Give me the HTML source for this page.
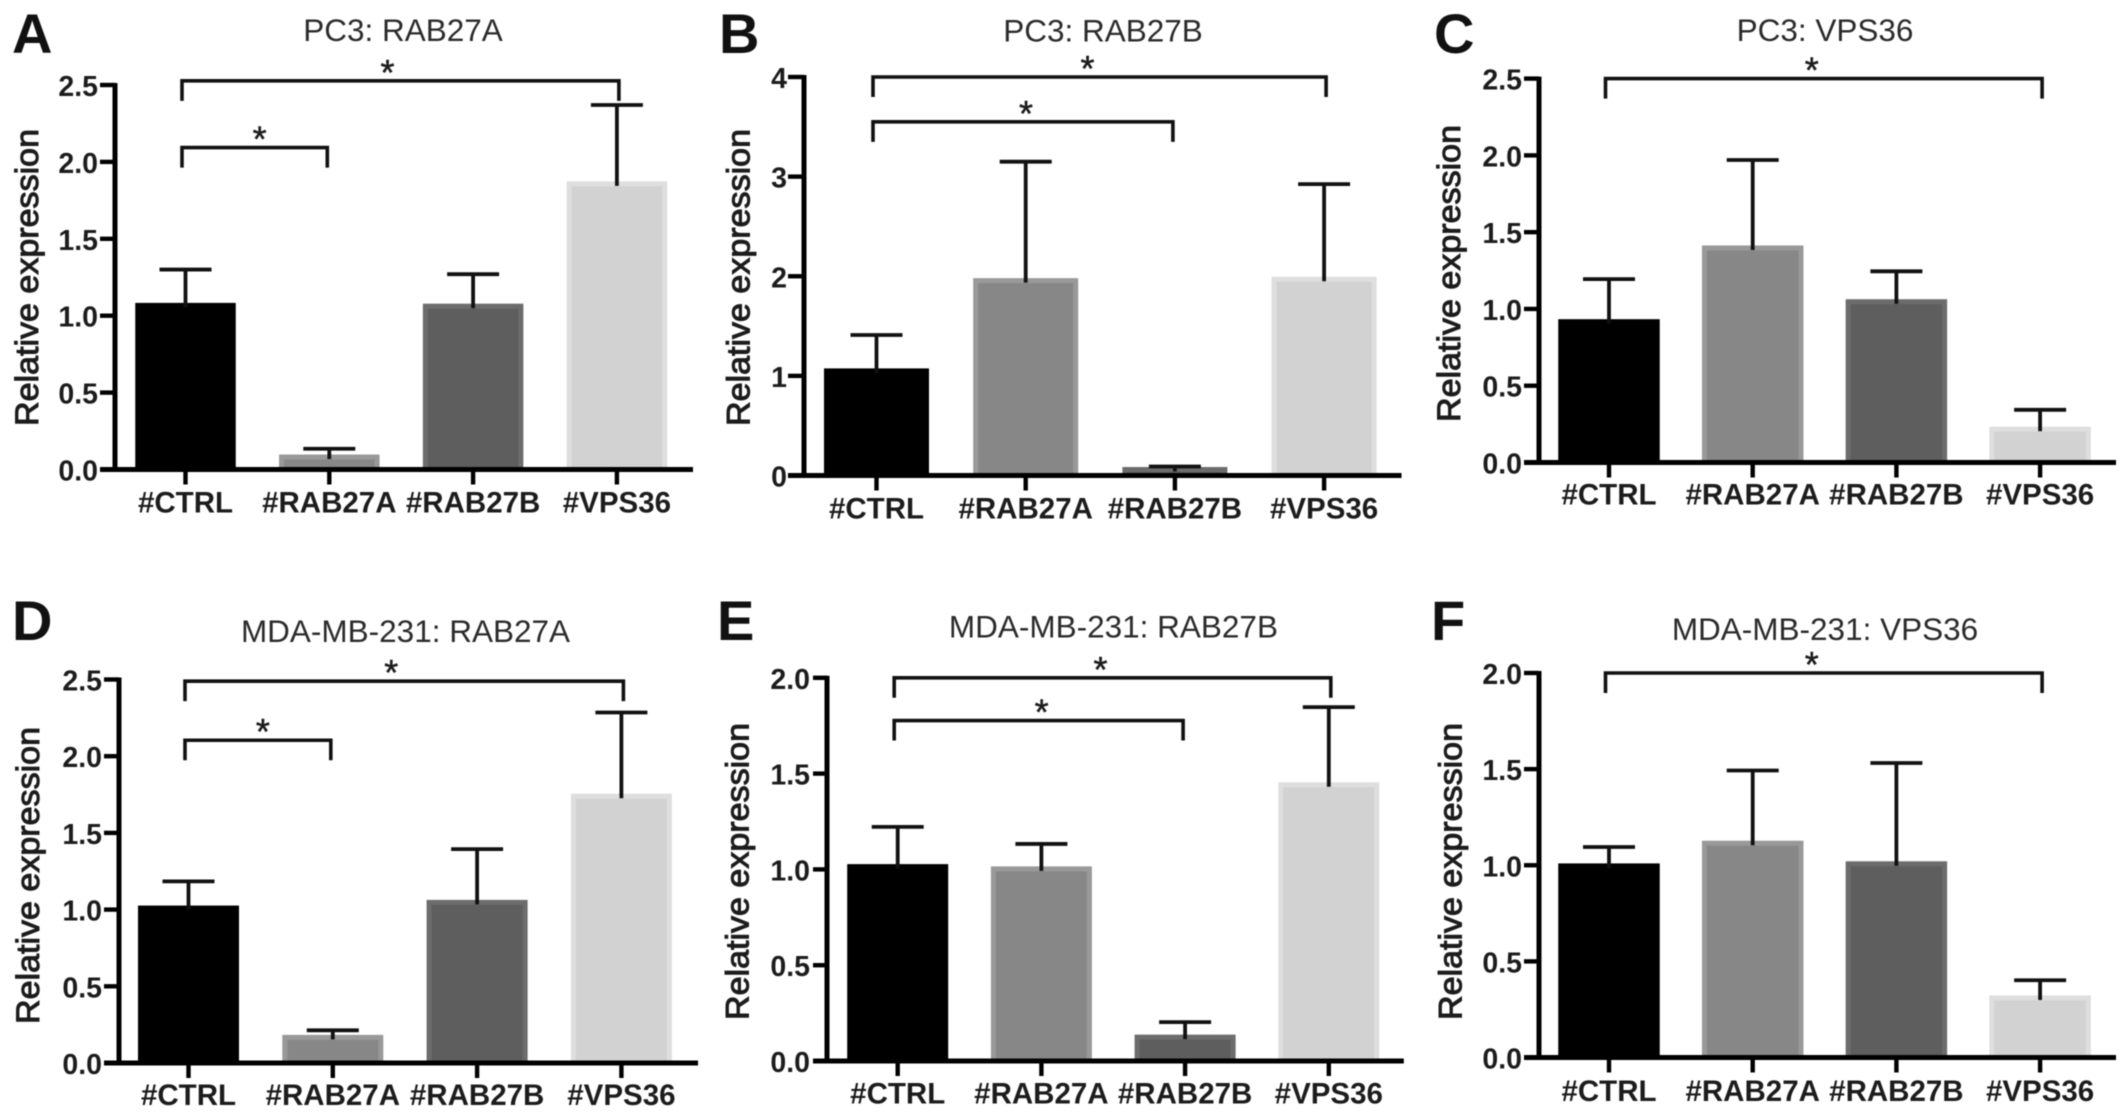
<!DOCTYPE html>
<html lang="en">
<head>
<meta charset="utf-8">
<title>Relative expression bar charts</title>
<style>
  html, body { margin: 0; padding: 0; background: #fff; width: 2126px; height: 1119px; overflow: hidden; }
  svg { display: block; filter: blur(0.6px); }
  text { font-family: "Liberation Sans", Arial, sans-serif; fill: #1c1c1c; }
</style>
</head>
<body>
<svg id="figure" width="2126" height="1119" viewBox="0 0 2126 1119" xmlns="http://www.w3.org/2000/svg"></svg>
<script>
// ---- Data ----
const categories = ['#CTRL', '#RAB27A', '#RAB27B', '#VPS36'];

const ticksA = ['0.0', '0.5', '1.0', '1.5', '2.0', '2.5'];
const valuesA = [1.08, 0.094, 1.075, 1.87];
const errorsA = [1.30, 0.135, 1.27, 2.37];
const bracketLevelsA = [2.527, 2.093];

const ticksB = ['0', '1', '2', '3', '4'];
const valuesB = [1.07, 1.976, 0.08, 1.99];
const errorsB = [1.41, 3.15, 0.09, 2.925];
const bracketLevelsB = [4.0, 3.55];

const ticksC = ['0.0', '0.5', '1.0', '1.5', '2.0', '2.5'];
const valuesC = [0.93, 1.41, 1.06, 0.23];
const errorsC = [1.194, 1.97, 1.245, 0.343];
const bracketLevelsC = [2.5];

const ticksD = ['0.0', '0.5', '1.0', '1.5', '2.0', '2.5'];
const valuesD = [1.023, 0.18, 1.06, 1.752];
const errorsD = [1.184, 0.213, 1.394, 2.285];
const bracketLevelsD = [2.489, 2.104];

const ticksE = ['0.0', '0.5', '1.0', '1.5', '2.0'];
const valuesE = [1.025, 1.013, 0.135, 1.452];
const errorsE = [1.222, 1.133, 0.203, 1.847];
const bracketLevelsE = [2.0, 1.777];

const ticksF = ['0.0', '0.5', '1.0', '1.5', '2.0'];
const valuesF = [1.007, 1.125, 1.018, 0.32];
const errorsF = [1.095, 1.493, 1.532, 0.402];
const bracketLevelsF = [2.0];

// ---- Layout (not data) ----
const barFills = ['#000000', '#878787', '#5e5e5e', '#d2d2d2'];
const barEdges = ['#000000', '#999999', '#6c6c6c', '#dedede'];

const panels = [
  { letter: 'A', title: 'PC3: RAB27A', ticks: ticksA, values: valuesA, errors: errorsA, levels: bracketLevelsA,
    targets: [3, 1], starShift: [-13, 5], axisX: 115, axisTop: 85, axisBase: 469.5, axisEnd: 693, axisStart: 100,
    firstX: 185.5, step: 143.8, barW: 95.5, labelY: 512.5, titleX: 403, titleY: 41, letterX: 12, letterY: 53,
    yTitleX: 38, yTitleY: 277.5, tickRight: 98 },
  { letter: 'B', title: 'PC3: RAB27B', ticks: ticksB, values: valuesB, errors: errorsB, levels: bracketLevelsB,
    targets: [3, 2], starShift: [-12, 3], axisX: 804, axisTop: 77, axisBase: 475.5, axisEnd: 1401.5, axisStart: 788,
    firstX: 876.5, step: 149.2, barW: 100, labelY: 518.5, titleX: 1103, titleY: 41.5, letterX: 719, letterY: 53,
    yTitleX: 749.4, yTitleY: 277.5, tickRight: 787 },
  { letter: 'C', title: 'PC3: VPS36', ticks: ticksC, values: valuesC, errors: errorsC, levels: bracketLevelsC,
    targets: [3], starShift: [-12], axisX: 1539, axisTop: 78.6, axisBase: 462.5, axisEnd: 2116, axisStart: 1524,
    firstX: 1609, step: 143.7, barW: 96.5, labelY: 504.5, titleX: 1825, titleY: 41, letterX: 1434, letterY: 53,
    yTitleX: 1459.8, yTitleY: 273.5, tickRight: 1522 },
  { letter: 'D', title: 'MDA-MB-231: RAB27A', ticks: ticksD, values: valuesD, errors: errorsD, levels: bracketLevelsD,
    targets: [3, 1], starShift: [-13, 5], axisX: 119, axisTop: 679.5, axisBase: 1063, axisEnd: 698, axisStart: 104,
    firstX: 188.5, step: 144.3, barW: 96, labelY: 1105, titleX: 405.5, titleY: 642, letterX: 12, letterY: 640,
    yTitleX: 39, yTitleY: 875.5, tickRight: 102 },
  { letter: 'E', title: 'MDA-MB-231: RAB27B', ticks: ticksE, values: valuesE, errors: errorsE, levels: bracketLevelsE,
    targets: [3, 2], starShift: [-12, 3], axisX: 827, axisTop: 677.8, axisBase: 1061, axisEnd: 1403.8, axisStart: 813,
    firstX: 897.7, step: 143.7, barW: 96, labelY: 1103.3, titleX: 1113.4, titleY: 637.7, letterX: 717, letterY: 640,
    yTitleX: 748.5, yTitleY: 871.5, tickRight: 810 },
  { letter: 'F', title: 'MDA-MB-231: VPS36', ticks: ticksF, values: valuesF, errors: errorsF, levels: bracketLevelsF,
    targets: [3], starShift: [-12], axisX: 1539, axisTop: 673, axisBase: 1057.5, axisEnd: 2116, axisStart: 1524,
    firstX: 1609, step: 143.7, barW: 96.5, labelY: 1101, titleX: 1825, titleY: 639.8, letterX: 1431, letterY: 640,
    yTitleX: 1461.6, yTitleY: 871.5, tickRight: 1522 }
];

const NS = 'http://www.w3.org/2000/svg';
const root = document.getElementById('figure');

function make(parent, tag, attrs, content) {
  const node = document.createElementNS(NS, tag);
  Object.keys(attrs).forEach(function (k) { node.setAttribute(k, attrs[k]); });
  if (content !== undefined) node.textContent = content;
  parent.appendChild(node);
  return node;
}

panels.forEach(function (p) {
  const maxVal = parseFloat(p.ticks[p.ticks.length - 1]);
  const yScale = function (v) { return p.axisBase - (v / maxVal) * (p.axisBase - p.axisTop); };
  const xScale = function (i) { return p.firstX + i * p.step; };
  const id = p.letter.toLowerCase();

  const g = make(root, 'g', {});
  
  

  const letter = make(g, 'text', { x: p.letterX, y: p.letterY, 'font-size': 56, 'font-weight': 700, style: 'fill:#111' }, p.letter);
  
  

  const title = make(g, 'text', { x: p.titleX, y: p.titleY, 'font-size': 31.5, 'text-anchor': 'middle', style: 'fill:#2b2b2b' }, p.title);
  
  

  const yTitle = make(g, 'text', {
    transform: 'translate(' + p.yTitleX + ',' + p.yTitleY + ') rotate(-90)',
    'font-size': 32, 'text-anchor': 'middle', textLength: 297, lengthAdjust: 'spacingAndGlyphs',
    stroke: '#1c1c1c', 'stroke-width': 1
  }, 'Relative expression');
  
  

  // bars
  categories.forEach(function (cat, i) {
    const top = yScale(p.values[i]);
    const bar = make(g, 'rect', {
      x: xScale(i) - p.barW / 2, y: top + 2, width: p.barW, height: p.axisBase - top - 2,
      fill: barFills[i], stroke: barEdges[i], 'stroke-width': 5
    });
    
    
  });

  // error bars
  categories.forEach(function (cat, i) {
    const errTop = yScale(p.errors[i]);
    const barTop = yScale(p.values[i]);
    const cx = xScale(i);
    const stem = make(g, 'line', { x1: cx, x2: cx, y1: errTop, y2: barTop + 4, stroke: '#111', 'stroke-width': 3.8 });
    
    
    const cap = make(g, 'line', { x1: cx - 26, x2: cx + 26, y1: errTop, y2: errTop, stroke: '#111', 'stroke-width': 3.8 });
    
    
  });

  // y axis
  const yAxis = make(g, 'line', { x1: p.axisX, x2: p.axisX, y1: p.axisTop - 2, y2: p.axisBase + 2, stroke: '#000', 'stroke-width': 5 });
  
  

  p.ticks.forEach(function (label) {
    const v = parseFloat(label);
    const ty = yScale(v);
    if (v > 0) {
      const tick = make(g, 'line', { x1: p.axisStart, x2: p.axisX, y1: ty, y2: ty, stroke: '#000', 'stroke-width': 4.4 });
      
      
    }
    const txt = make(g, 'text', { x: p.tickRight, y: ty + 11, 'font-size': 28.5, 'font-weight': 700, 'text-anchor': 'end' }, label);
    
    
  });

  // x axis
  const xAxis = make(g, 'line', { x1: p.axisStart, x2: p.axisEnd, y1: p.axisBase, y2: p.axisBase, stroke: '#000', 'stroke-width': 5 });
  
  

  categories.forEach(function (cat, i) {
    const cx = xScale(i);
    const tick = make(g, 'line', { x1: cx, x2: cx, y1: p.axisBase, y2: p.axisBase + 15, stroke: '#000', 'stroke-width': 4.4 });
    
    
    const txt = make(g, 'text', { x: cx, y: p.labelY, 'font-size': 29.5, 'font-weight': 700, 'text-anchor': 'middle' }, cat);
    
    
  });

  // significance brackets
  p.levels.forEach(function (level, n) {
    const ly = yScale(level);
    const x1 = xScale(0) - 3.5;
    const x2 = xScale(p.targets[n]) + (p.targets[n] === 3 ? 2 : -2);
    const path = make(g, 'path', {
      d: 'M' + x1 + ' ' + (ly + 20) + 'V' + ly + 'H' + x2 + 'V' + (ly + 20),
      fill: 'none', stroke: '#111', 'stroke-width': 3.6
    });
    
    
    const star = make(g, 'text', {
      x: (x1 + x2) / 2 + p.starShift[n], y: ly + 4, 'font-size': 36, 'font-weight': 400, 'text-anchor': 'middle',
      stroke: '#1c1c1c', 'stroke-width': 0.5
    }, '*');
    
    
  });
});
</script>
</body>
</html>
